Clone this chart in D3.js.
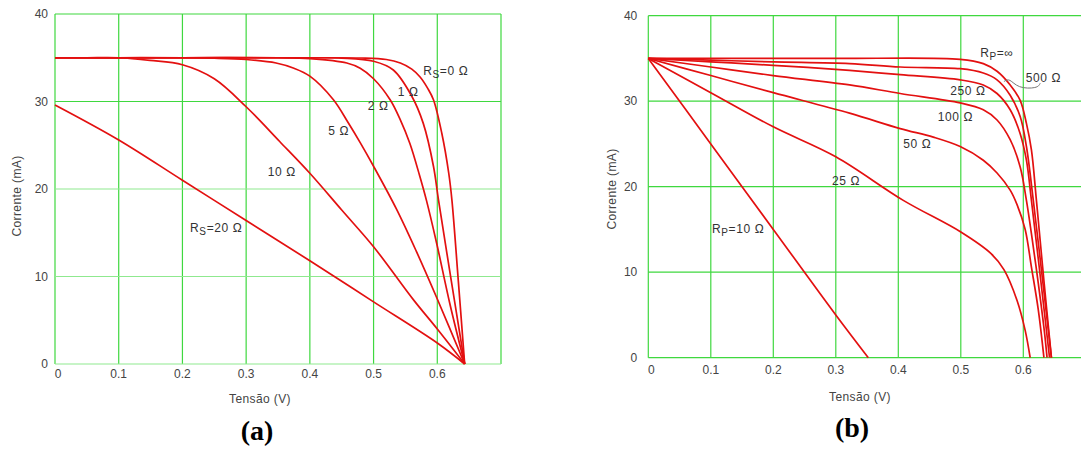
<!DOCTYPE html>
<html lang="pt">
<head>
<meta charset="UTF-8">
<title>Curvas I-V</title>
<script src="https://d3js.org/d3.v7.min.js"></script>
<style>
    body { margin: 0; background: #fff; }
    svg text { font-family: "Liberation Sans", Arial, sans-serif; fill: #444; }
    .tick-label { font-size: 12px; }
    .axis-title { font-size: 12px; letter-spacing: 0.4px; }
    .curve-label { font-size: 12px; letter-spacing: 0.6px; fill: #333; }
    .panel-tag { font-family: "Liberation Serif", "Times New Roman", serif; font-weight: bold; font-size: 28px; fill: #000; }
</style>
</head>
<body>
<div id="chart"></div>
<script>
// eixo comum
const xTicks = [0, 0.1, 0.2, 0.3, 0.4, 0.5, 0.6];
const yTicks = [0, 10, 20, 30, 40];
const xGrid = [0, 0.1, 0.2, 0.3, 0.4, 0.5, 0.6, 0.7];

// (a) resistencia serie: [V, I(mA)]
const rs0  = [[0,35],[0.2,35],[0.4,35],[0.48,34.97],[0.52,34.8],[0.542,34.4],[0.56,33.7],[0.573,32.8],[0.585,31.5],[0.594,30.2],[0.607,26.4],[0.618,21.8],[0.623,18.7],[0.633,9.5],[0.643,0]];
const rs1  = [[0,35],[0.2,35],[0.4,35],[0.45,34.96],[0.5,34.6],[0.531,33.6],[0.56,30.6],[0.578,27.5],[0.594,22.6],[0.602,18.7],[0.622,9.5],[0.643,0]];
const rs2  = [[0,35],[0.2,35],[0.35,35],[0.4,34.9],[0.458,34.4],[0.479,33.8],[0.5,32.6],[0.526,30.2],[0.542,27.9],[0.557,25.2],[0.572,21.6],[0.583,18.7],[0.599,13.8],[0.62,6.8],[0.643,0]];
const rs5  = [[0,35],[0.1,35],[0.2,35],[0.25,34.95],[0.3,34.8],[0.347,34.4],[0.375,33.8],[0.4,32.9],[0.437,30.2],[0.46,27.6],[0.479,25.3],[0.5,22.6],[0.536,17.7],[0.567,12.9],[0.599,7.6],[0.643,0]];
const rs10 = [[0,35],[0.05,35],[0.1,35],[0.149,34.7],[0.2,34.2],[0.25,32.6],[0.3,29.4],[0.353,25.4],[0.4,21.8],[0.45,17.6],[0.5,13.4],[0.563,7.3],[0.6,4.0],[0.643,0]];
const rs20 = [[0,29.6],[0.1,25.6],[0.2,21.0],[0.3,16.4],[0.4,11.8],[0.5,7.1],[0.6,2.4],[0.643,0]];

// (b) resistencia paralela
const rpInf = [[0,35],[0.1,35],[0.3,35],[0.499,34.9],[0.536,34.4],[0.558,33.5],[0.579,31.9],[0.595,30.1],[0.605,27.4],[0.613,24.3],[0.621,18.4],[0.633,9],[0.645,0]];
const rp500 = [[0,35],[0.1,34.8],[0.2,34.6],[0.322,34.4],[0.403,34.0],[0.499,33.8],[0.536,33.3],[0.558,32.5],[0.579,30.7],[0.595,28.2],[0.605,24.7],[0.616,18.4],[0.631,9],[0.645,0]];
const rp250 = [[0,35],[0.1,34.6],[0.2,34.2],[0.322,33.6],[0.403,33.1],[0.499,32.5],[0.536,31.9],[0.558,30.9],[0.579,29.0],[0.595,26.2],[0.605,23.1],[0.613,18.4],[0.628,9],[0.642,0]];
const rp100 = [[0,35],[0.1,34.0],[0.2,33.0],[0.322,31.9],[0.403,30.9],[0.499,29.8],[0.536,29.0],[0.558,27.8],[0.579,25.5],[0.595,22.3],[0.605,18.4],[0.613,14.5],[0.624,8.7],[0.634,2.9],[0.638,0]];
const rp50  = [[0,35],[0.1,33.0],[0.2,31.0],[0.322,28.6],[0.403,26.8],[0.456,25.8],[0.499,24.7],[0.536,23.1],[0.558,21.6],[0.579,19.6],[0.59,17.9],[0.603,15.0],[0.613,10.6],[0.624,5.6],[0.633,0]];
const rp25  = [[0,35],[0.1,31.0],[0.2,27.0],[0.3,23.5],[0.408,18.4],[0.5,14.7],[0.548,12.2],[0.569,10.3],[0.59,6.7],[0.603,3.2],[0.611,0]];
const rp10  = [[0,35],[0.1,25.0],[0.2,15.0],[0.3,5.0],[0.352,0]];

// rotulos das curvas [V, I, texto, subscrito, resto]
const labelsA = [
    [0.578, 33.0, "R", "S", "=0 Ω"],
    [0.538, 30.6, "1 Ω"],
    [0.491, 29.0, "2 Ω"],
    [0.429, 26.2, "5 Ω"],
    [0.334, 21.5, "10 Ω"],
    [0.212, 15.1, "R", "S", "=20 Ω"]
];
const labelsB = [
    [0.531, 35.2, "R", "P", "=∞"],
    [0.604, 32.2, "500 Ω"],
    [0.483, 30.7, "250 Ω"],
    [0.463, 27.7, "100 Ω"],
    [0.408, 24.5, "50 Ω"],
    [0.294, 20.2, "25 Ω"],
    [0.102, 14.6, "R", "P", "=10 Ω"]
];
const leaderB = [[0.569,32.3],[0.578,32.7],[0.591,31.5],[0.623,31.5],[0.627,32.1]];

const svg = d3.select("#chart").append("svg")
    .attr("width", 1081)
    .attr("height", 450);

function drawPanel(p) {
    let x = d3.scaleLinear().domain([0, 0.7]).range(p.xRange);
    let y = d3.scaleLinear().domain([0, 40]).range(p.yRange);
    let g = svg.append("g");

    g.selectAll(".vgrid").data(xGrid).enter().append("line")
        .attr("x1", d => x(d)).attr("x2", d => x(d))
        .attr("y1", y(0)).attr("y2", y(40))
        .attr("stroke", "#3fd83f").attr("stroke-width", 1.2);

    g.selectAll(".hgrid").data(yTicks).enter().append("line")
        .attr("x1", x(0)).attr("x2", x(0.7))
        .attr("y1", d => y(d)).attr("y2", d => y(d))
        .attr("stroke", d => p.lightH.includes(d) ? "#8fe98f" : "#3fd83f")
        .attr("stroke-width", 1.2);

    g.selectAll(".ylab").data(yTicks).enter().append("text")
        .attr("class", "tick-label")
        .attr("x", x(0) - p.yLabGap)
        .attr("y", d => y(d) + 4)
        .attr("text-anchor", "end")
        .text(d => d);

    g.selectAll(".xlab").data(xTicks).enter().append("text")
        .attr("class", "tick-label")
        .attr("x", d => x(d) + (d === 0 ? 3 : 0))
        .attr("y", y(0) + p.xLabGap)
        .attr("text-anchor", "middle")
        .text(d => d === 0 ? "0" : d.toFixed(1));

    g.append("text").attr("class", "axis-title")
        .attr("x", p.xTitle[0]).attr("y", p.xTitle[1])
        .attr("text-anchor", "middle")
        .text("Tensão (V)");

    g.append("text").attr("class", "axis-title")
        .attr("transform", `translate(${p.yTitle[0]},${p.yTitle[1]}) rotate(-90)`)
        .attr("text-anchor", "middle")
        .text("Corrente (mA)");

    let line = d3.line()
        .x(d => x(d[0]))
        .y(d => y(d[1]))
        .curve(d3.curveCatmullRom.alpha(0.5));

    g.selectAll(".curve").data(p.series).enter().append("path")
        .attr("d", line)
        .attr("fill", "none")
        .attr("stroke", "#e31010")
        .attr("stroke-width", 1.7);

    if (p.leader) {
        g.append("path")
            .attr("d", d3.line().x(d => x(d[0])).y(d => y(d[1])).curve(d3.curveBasis)(p.leader))
            .attr("fill", "none")
            .attr("stroke", "#777")
            .attr("stroke-width", 1);
    }

    p.labels.forEach(l => {
        let t = g.append("text").attr("class", "curve-label")
            .attr("x", x(l[0])).attr("y", y(l[1]));
        if (l.length === 3) {
            t.text(l[2]);
        } else {
            t.append("tspan").text(l[2]);
            t.append("tspan").attr("dy", 3).attr("font-size", "10px").text(l[3]);
            t.append("tspan").attr("dy", -3).text(l[4]);
        }
    });

    svg.append("text").attr("class", "panel-tag")
        .attr("x", p.tag[0]).attr("y", p.tag[1])
        .attr("text-anchor", "middle")
        .text(p.tag[2]);
}

drawPanel({
    xRange: [55, 501], yRange: [364, 14],
    lightH: [0, 10, 20],
    yLabGap: 7, xLabGap: 14,
    xTitle: [260, 403], yTitle: [21, 196],
    series: [rs0, rs1, rs2, rs5, rs10, rs20],
    labels: labelsA,
    tag: [257, 440, "(a)"]
});

drawPanel({
    xRange: [648.3, 1085.8], yRange: [357.7, 15.7],
    lightH: [],
    yLabGap: 11, xLabGap: 16,
    xTitle: [860, 401], yTitle: [616, 189],
    series: [rpInf, rp500, rp250, rp100, rp50, rp25, rp10],
    labels: labelsB,
    leader: leaderB,
    tag: [852, 437, "(b)"]
});
</script>
</body>
</html>
